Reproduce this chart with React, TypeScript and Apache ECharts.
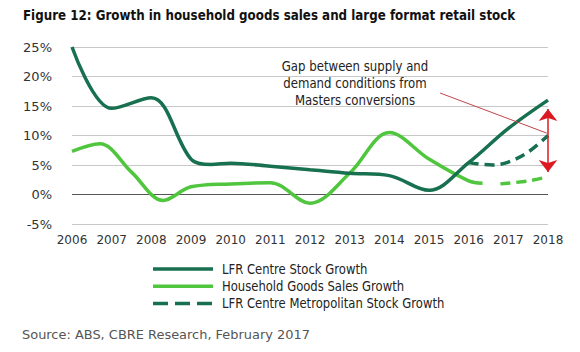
import React, { useEffect, useRef } from "react";
import * as echarts from "echarts";

const years = [2006, 2007, 2008, 2009, 2010, 2011, 2012, 2013, 2014, 2015, 2016, 2017, 2018];
const yTicks = [-5, 0, 5, 10, 15, 20, 25];

const lfrStockX = [2006, 2007, 2008, 2009, 2009.5, 2010, 2011, 2012, 2013, 2014, 2015, 2016, 2017, 2018];
const lfrStock = [25, 14.6, 16.4, 6.0, 5.1, 5.3, 4.8, 4.2, 3.6, 3.2, 0.7, 5.4, 11.2, 16.0];

const hhSalesX = [2006, 2006.7, 2007.5, 2008.3, 2009, 2010, 2011, 2012, 2013, 2014, 2015, 2016, 2016.35];
const hhSales = [7.3, 8.6, 3.8, -1.0, 1.3, 1.8, 2.0, -1.5, 3.6, 10.5, 6.0, 2.3, 1.9];

const hhProjX = [2016.8, 2017.5, 2018];
const hhProj = [1.8, 2.3, 3.0];

const metroX = [2016, 2016.6, 2017, 2017.5, 2018];
const metro = [5.4, 5.0, 5.5, 7.2, 10.0];

const gapArrow = [[2018, 14.5], [2018, 3.8]];
const pointer = [[2015.28, 17.2], [2017.97, 10.4]];

const names = ["LFR Centre Stock Growth", "Household Goods Sales Growth", "LFR Centre Metropolitan Stock Growth"];

const DARK = "#17704f";
const LIGHT = "#4fc63d";
const RED = "#dc1822";
const FONT = "'DejaVu Sans', sans-serif";

function pairs(xs: number[], ys: number[]) {
  return xs.map((x, i) => [x, ys[i]]);
}

const legendColors = [DARK, LIGHT, DARK];
const legendDash: (number[] | null)[] = [null, null, [15, 7]];

export default function App() {
  const ref = useRef<HTMLDivElement>(null);
  useEffect(() => {
    const chart = echarts.init(ref.current!, null, { renderer: "svg" });
    const legendItems: any[] = [];
    names.forEach((n, i) => {
      const y = 269 + i * 17.2;
      legendItems.push({
        type: "line",
        shape: { x1: 153, y1: y, x2: 213, y2: y },
        style: { stroke: legendColors[i], lineWidth: 3.5, lineDash: legendDash[i] || undefined },
      });
      legendItems.push({
        type: "text",
        x: 222,
        y: y,
        scaleX: 0.83,
        style: { text: n, fontFamily: FONT, fontSize: 14, fill: "#222", textVerticalAlign: "middle", verticalAlign: "middle" },
      });
    });
    chart.setOption({
      animation: false,
      backgroundColor: "#fff",
      grid: { left: 72, right: 32, top: 47, bottom: 128 },
      xAxis: {
        type: "value",
        min: years[0],
        max: years[years.length - 1],
        interval: 1,
        axisLine: { show: false, onZero: false },
        axisTick: { show: false },
        splitLine: { show: false },
        axisLabel: {
          formatter: (v: number) => String(v),
          color: "#333",
          fontFamily: FONT,
          fontSize: 12,
          margin: 10,
        },
      },
      yAxis: {
        type: "value",
        min: yTicks[0],
        max: yTicks[yTicks.length - 1],
        interval: 5,
        axisLine: { show: false },
        axisTick: { show: false },
        axisLabel: {
          formatter: (v: number) => v + "%",
          color: "#333",
          fontFamily: FONT,
          fontSize: 13,
          margin: 20,
        },
        splitLine: {
          lineStyle: { color: ["#c8c8c8", "#555555", "#c8c8c8", "#c8c8c8", "#c8c8c8", "#c8c8c8", "#c8c8c8"], width: 1.2 },
        },
      },
      graphic: [
        {
          type: "text",
          x: 23,
          y: 15,
          scaleX: 0.85,
          style: {
            text: "Figure 12: Growth in household goods sales and large format retail stock",
            fontFamily: FONT,
            fontWeight: "bold",
            fontSize: 14,
            fill: "#111",
            verticalAlign: "middle",
            textVerticalAlign: "middle",
          },
        },
        {
          type: "text",
          x: 355,
          y: 57,
          scaleX: 0.84,
          style: {
            text: "Gap between supply and\ndemand conditions from\nMasters conversions",
            align: "center",
            textAlign: "center",
            fontFamily: FONT,
            fontSize: 14,
            lineHeight: 17.4,
            fill: "#222",
          },
        },
        {
          type: "text",
          x: 22,
          y: 335,
          scaleX: 1.08,
          style: {
            text: "Source: ABS, CBRE Research, February 2017",
            fontFamily: FONT,
            fontSize: 12,
            fill: "#555",
            verticalAlign: "middle",
            textVerticalAlign: "middle",
          },
        },
        ...legendItems,
      ],
      series: [
        {
          name: names[0],
          type: "line",
          data: pairs(lfrStockX, lfrStock),
          smooth: 0.35,
          showSymbol: false,
          symbol: "none",
          lineStyle: { color: DARK, width: 3.5 },
          itemStyle: { color: DARK },
          z: 3,
          markLine: {
            silent: true,
            symbol: ["none", "none"],
            label: { show: false },
            lineStyle: { color: "#c0454b", width: 1, type: "solid" },
            data: [[{ coord: pointer[0] }, { coord: pointer[1] }]],
          },
        },
        {
          name: names[1],
          type: "line",
          data: pairs(hhSalesX, hhSales),
          smooth: 0.35,
          showSymbol: false,
          symbol: "none",
          lineStyle: { color: LIGHT, width: 3.5 },
          itemStyle: { color: LIGHT },
          z: 2,
        },
        {
          name: "Household Goods Sales Growth (projection)",
          type: "line",
          data: pairs(hhProjX, hhProj),
          smooth: 0.35,
          showSymbol: false,
          symbol: "none",
          lineStyle: { color: LIGHT, width: 3.5, type: [10, 6] },
          itemStyle: { color: LIGHT },
          z: 2,
        },
        {
          name: names[2],
          type: "line",
          data: pairs(metroX, metro),
          smooth: 0.35,
          showSymbol: false,
          symbol: "none",
          lineStyle: { color: DARK, width: 3.5, type: [10, 6] },
          itemStyle: { color: DARK },
          z: 3,
          markLine: {
            silent: true,
            symbol: ["arrow", "arrow"],
            symbolSize: [14, 12],
            label: { show: false },
            lineStyle: { color: RED, width: 1.5, type: "solid" },
            data: [[{ coord: gapArrow[0] }, { coord: gapArrow[1] }]],
          },
        },
      ],
    });
    return () => chart.dispose();
  }, []);
  return <div ref={ref} style={{ width: 580, height: 352, margin: -8 }} />;
}
